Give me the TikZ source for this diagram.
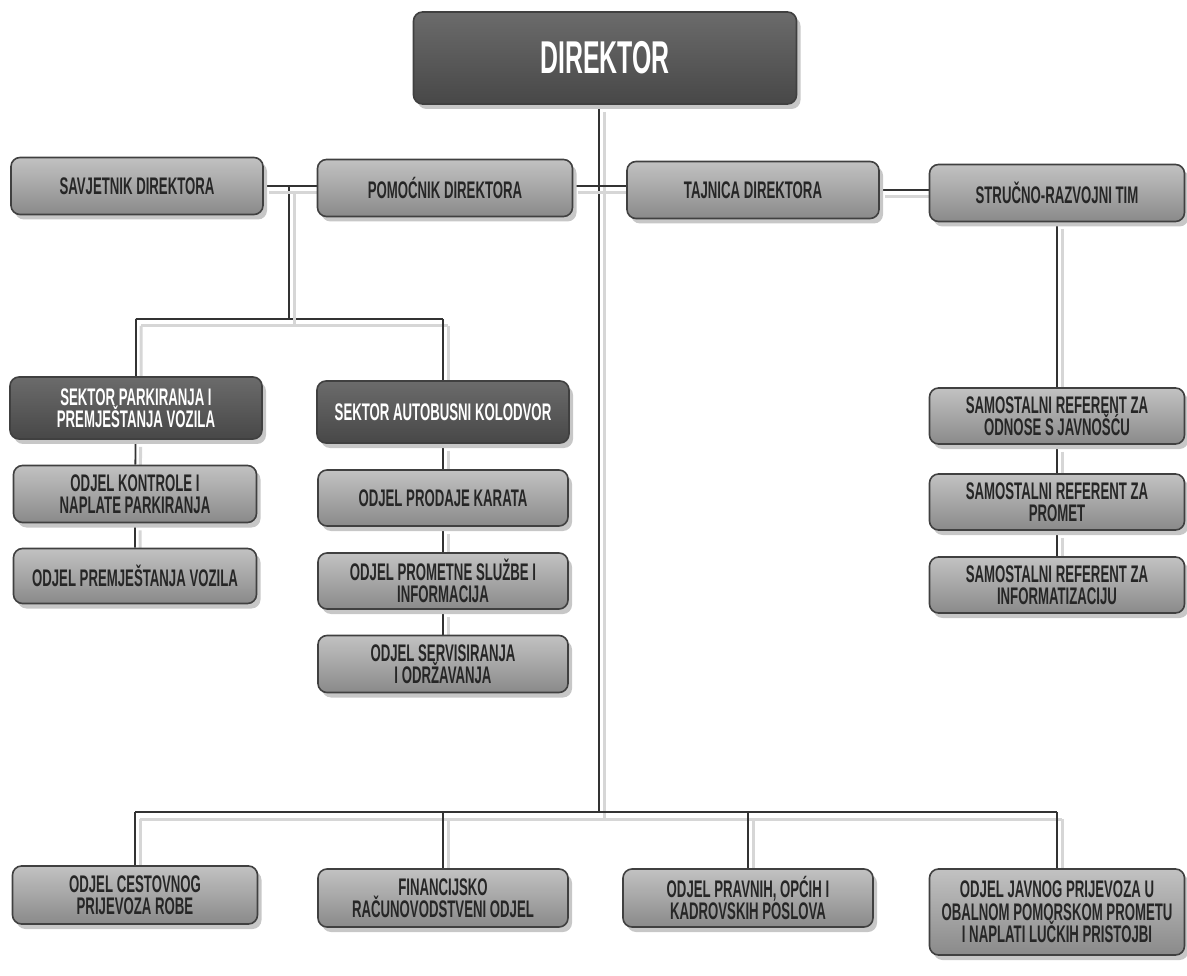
\documentclass[tikz,border=0pt]{standalone}
\usepackage{fontspec}
\setmainfont[FakeStretch=0.55]{Liberation Sans}
\newfontfamily\headfont[FakeStretch=0.54]{Liberation Sans}
\usetikzlibrary{shadows,backgrounds}
\tikzset{
	every node/.style={align=center,font=\bfseries\fontsize{24}{22.5}\selectfont},
	unit/.style={draw=black!75,line width=1.6pt,rounded corners=9pt,
		top color=black!24,bottom color=black!46,text=black!85,
		minimum width=252pt,minimum height=57pt,inner sep=2pt,
		drop shadow={shadow xshift=4pt,shadow yshift=-5pt,fill=black!22,opacity=1}},
	sektor/.style={unit,top color=black!58,bottom color=black!72,text=white},
	link/.style={draw=black!80,line width=1.8pt,
		preaction={draw=black!16,line width=3pt,transform canvas={xshift=5pt,yshift=-7pt}}}
}

\begin{document}
\begin{tikzpicture}[x=1pt,y=-1pt]
	\useasboundingbox (0,0) rectangle (1187,976);
	%junctions
	\coordinate (hub) at (599,186);
	\coordinate (split) at (289,186);
	\coordinate (left bar) at (289,319);
	\coordinate (bottom bar) at (599,812);
	%top
	\node[sektor,minimum width=383pt,minimum height=92pt,
	font=\headfont\bfseries\fontsize{46}{46}\selectfont] (dir) at (605,58) {DIREKTOR};
	%staff
	\node[unit] (sav) at (137,186) {SAVJETNIK DIREKTORA};
	\node[unit,minimum width=255pt] (pom) at (445,188) {POMOĆNIK DIREKTORA};
	\node[unit] (taj) at (753,190) {TAJNICA DIREKTORA};
	\node[unit,minimum width=255pt] (str) at (1057,193) {STRUČNO-RAZVOJNI TIM};
	%sectors
	\node[sektor,minimum height=62pt] (park) at (136,408) {SEKTOR PARKIRANJA I\\PREMJEŠTANJA VOZILA};
	\node[sektor,minimum height=62pt] (bus) at (443,412) {SEKTOR AUTOBUSNI KOLODVOR};
	\node[unit,minimum width=243pt] (kontr) at (135,494) {ODJEL KONTROLE I\\NAPLATE PARKIRANJA};
	\node[unit,minimum width=243pt,minimum height=55pt] (premj) at (135,576) {ODJEL PREMJEŠTANJA VOZILA};
	\node[unit,minimum width=250pt,minimum height=56pt] (karte) at (443,498) {ODJEL PRODAJE KARATA};
	\node[unit,minimum width=250pt,minimum height=56pt] (promet) at (443,581) {ODJEL PROMETNE SLUŽBE I\\INFORMACIJA};
	\node[unit,minimum width=250pt] (servis) at (443,664) {ODJEL SERVISIRANJA\\I ODRŽAVANJA};
	%referents
	\node[unit,minimum width=255pt,minimum height=56pt] (ref1) at (1057,416) {SAMOSTALNI REFERENT ZA\\ODNOSE S JAVNOŠĆU};
	\node[unit,minimum width=255pt,minimum height=56pt] (ref2) at (1057,502) {SAMOSTALNI REFERENT ZA\\PROMET};
	\node[unit,minimum width=255pt,minimum height=56pt] (ref3) at (1057,585) {SAMOSTALNI REFERENT ZA\\INFORMATIZACIJU};
	%departments
	\node[unit,minimum width=245pt,minimum height=58pt] (robe) at (135,895) {ODJEL CESTOVNOG\\PRIJEVOZA ROBE};
	\node[unit,minimum width=250pt,minimum height=58pt] (fin) at (443,898) {FINANCIJSKO\\RAČUNOVODSTVENI ODJEL};
	\node[unit,minimum width=250pt,minimum height=58pt] (prav) at (748,898) {ODJEL PRAVNIH, OPĆIH I\\KADROVSKIH POSLOVA};
	\node[unit,minimum width=255pt,minimum height=86pt] (jav) at (1057,912) {ODJEL JAVNOG PRIJEVOZA U\\OBALNOM POMORSKOM PROMETU\\I NAPLATI LUČKIH PRISTOJBI};
	%links
	\begin{scope}[on background layer]
	\draw[link] (dir.south -| hub) -- (bottom bar);
	\draw[link] (park.north |- left bar) -- (bus.north |- left bar);
	\draw[link] (split) -- (left bar);
	\draw[link] (robe.north |- bottom bar) -- (jav.north |- bottom bar);
	\draw[link] (sav.east |- split) -- (pom.west |- split);
	\draw[link] (pom.east |- hub) -- (taj.west |- hub);
	\draw[link] (taj.east) -- (str.west |- taj.east);
	\draw[link] (str) -- (ref1) -- (ref2) -- (ref3);
	\draw[link] (park.north |- left bar) -- (park) -- (kontr) -- (premj);
	\draw[link] (bus.north |- left bar) -- (bus) -- (karte) -- (promet) -- (servis);
	\foreach \n in {robe,fin,prav,jav}
	\draw[link] (\n.north |- bottom bar) -- (\n);
	\end{scope}
\end{tikzpicture}
\end{document}
